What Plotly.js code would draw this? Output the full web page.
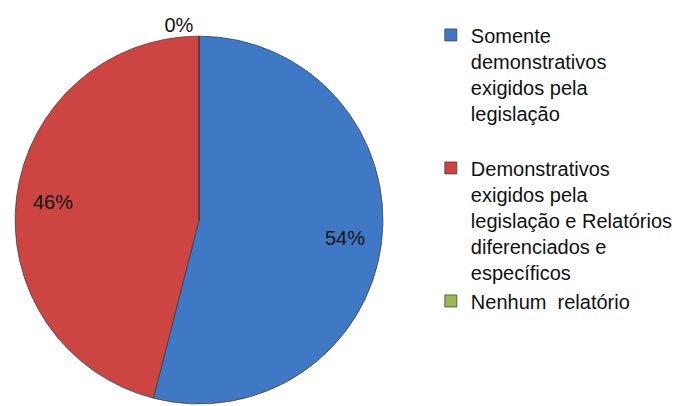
<!DOCTYPE html>
<html>
<head>
<meta charset="utf-8">
<script src="https://cdn.plot.ly/plotly-3.0.1.min.js"></script>
<style>html,body{margin:0;padding:0;background:#fff;}#chart{width:696px;height:406px;}</style>
</head>
<body>
<div id="chart"></div>
<script>
var categories = [
  "Somente<br>demonstrativos<br>exigidos pela<br>legislação<br> ",
  "Demonstrativos<br>exigidos pela<br>legislação e Relatórios<br>diferenciados e<br>específicos",
  "Nenhum  relatório"
];
var values = [54, 46, 0];
var percentLabels = ["54%", "46%", "0%"];
var sliceColors = ["#3F79C5", "#CC4543", "#98B954"];

var pieDomain = {x: [0.016, 0.556], y: [0.005, 0.911]};
var fontFamily = "Liberation Sans, Arial, sans-serif";

// Main pie: slices and legend
var pieTrace = {
  type: "pie",
  labels: categories,
  values: values,
  textinfo: "none",
  sort: false,
  direction: "clockwise",
  rotation: 0,
  marker: {colors: sliceColors, line: {color: "rgba(60,60,60,0.75)", width: 1}},
  domain: pieDomain,
  hoverinfo: "label+percent",
  showlegend: true
};

// Transparent ring carrying the percentage labels near the outer edge
var labelTrace = {
  type: "pie",
  labels: categories,
  values: values,
  text: percentLabels,
  textinfo: "text",
  textposition: ["inside", "inside", "outside"],
  insidetextorientation: "horizontal",
  hole: 0.6,
  sort: false,
  direction: "clockwise",
  rotation: 0,
  marker: {colors: ["rgba(0,0,0,0)", "rgba(0,0,0,0)", "rgba(0,0,0,0)"], line: {width: 0}},
  textfont: {family: fontFamily, size: 20, color: "#111"},
  domain: pieDomain,
  hoverinfo: "skip",
  showlegend: false
};

var layout = {
  width: 696, height: 406,
  margin: {l: 0, r: 0, t: 0, b: 0},
  paper_bgcolor: "#fff",
  showlegend: true,
  legend: {
    x: 0.619, xanchor: "left", y: 0.962, yanchor: "top",
    valign: "top",
    font: {family: fontFamily, size: 20, color: "#111"},
    traceorder: "normal"
  }
};

Plotly.newPlot("chart", [pieTrace, labelTrace], layout, {displayModeBar: false, staticPlot: true});
</script>
</body>
</html>
